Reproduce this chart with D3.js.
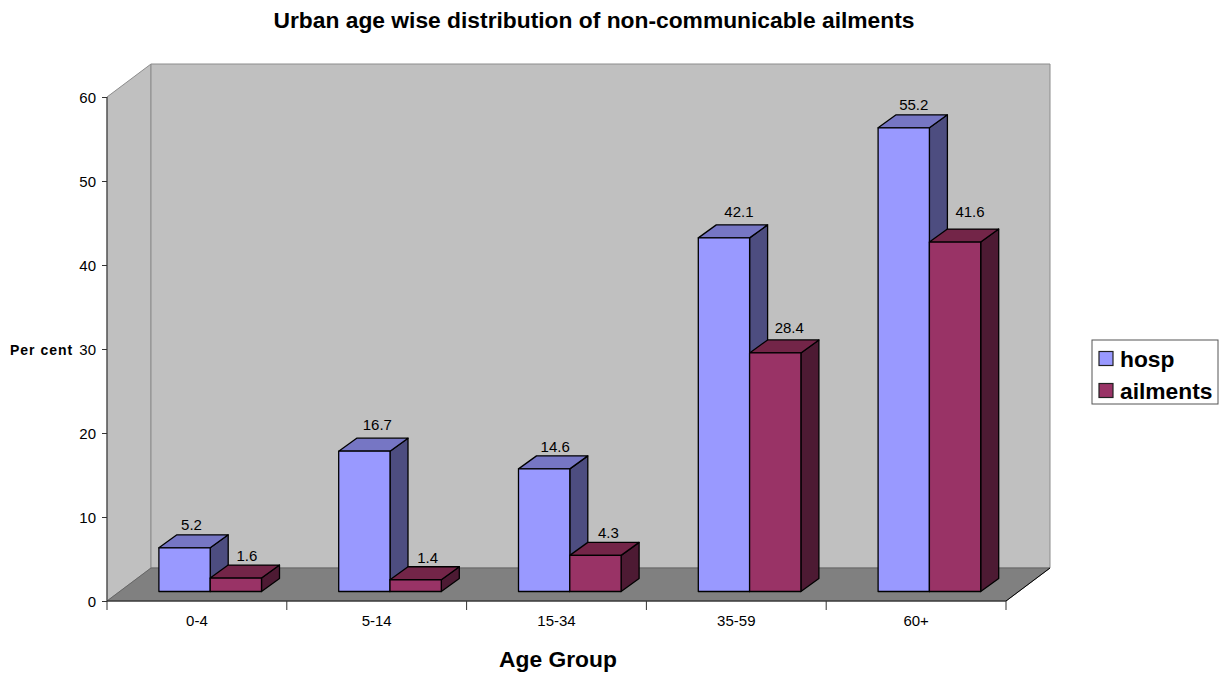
<!DOCTYPE html>
<html>
<head>
<meta charset="utf-8">
<script src="https://cdn.jsdelivr.net/npm/d3@7"></script>
<style>
html, body { margin: 0; padding: 0; background: #fff; }
svg { display: block; }
text { font-family: "Liberation Sans", Arial, sans-serif; fill: #000; }
</style>
</head>
<body>
<svg id="chart" width="1224" height="675"></svg>
<script>
// Values per age group, in per cent
const ageGroups = ["0-4", "5-14", "15-34", "35-59", "60+"];
const hosp = [5.2, 16.7, 14.6, 42.1, 55.2];
const ailments = [1.6, 1.4, 4.3, 28.4, 41.6];
const yTicks = [0, 10, 20, 30, 40, 50, 60];
const seriesNames = ["hosp", "ailments"];
const seriesValues = [hosp, ailments];
const seriesFill = [
  { front: "#9999ff", top: "#7676c4", side: "#4d4d80" },
  { front: "#993366", top: "#732548", side: "#4d1a33" }
];
// Hand placement of the value labels relative to their default spot above each bar
const labelShiftX = [[-2, 4, 2, 6, 1], [2, 3, 4, 5, 6]];
const labelShiftY = [[-1, -4, 0, -4, -1], [0, 0, 0, -3, -8]];

const svg = d3.select("#chart");

// Plot box: front-left origin, plus the oblique shift of the back wall
const plotLeft = 107, plotRight = 1006, plotBottom = 601, plotTop = 97;
const wallDx = 44, wallDy = -33;
// Bars stand part way into the floor and have their own oblique depth
const barInsetX = 13.3, barInsetY = -9.5, barDepthX = 18, barDepthY = -13;

const x = d3.scaleBand().domain(ageGroups).range([plotLeft, plotRight]);
const y = d3.scaleLinear().domain([0, 60]).range([plotBottom, plotTop]);
const barWidth = 51.3;

const poly = pts => pts.map(p => p.join(",")).join(" ");

// Walls and floor
svg.append("polygon")
  .attr("points", poly([[plotLeft, plotBottom], [plotLeft, plotTop], [plotLeft + wallDx, plotTop + wallDy], [plotLeft + wallDx, plotBottom + wallDy]]))
  .attr("fill", "#c0c0c0").attr("stroke", "#8c8c8c").attr("stroke-width", 1);
svg.append("polygon")
  .attr("points", poly([[plotLeft + wallDx, plotBottom + wallDy], [plotLeft + wallDx, plotTop + wallDy], [plotRight + wallDx, plotTop + wallDy], [plotRight + wallDx, plotBottom + wallDy]]))
  .attr("fill", "#c0c0c0").attr("stroke", "#8c8c8c").attr("stroke-width", 1);
svg.append("polygon")
  .attr("points", poly([[plotLeft, plotBottom], [plotLeft + wallDx, plotBottom + wallDy], [plotRight + wallDx, plotBottom + wallDy], [plotRight, plotBottom]]))
  .attr("fill", "#808080").attr("stroke", "#666").attr("stroke-width", 1);
svg.append("line")
  .attr("x1", plotRight).attr("y1", plotBottom).attr("x2", plotRight + wallDx).attr("y2", plotBottom + wallDy)
  .attr("stroke", "#000");

// Bars, drawn back to front within each group
const barLayer = svg.append("g").attr("stroke", "#000").attr("stroke-width", 1.3).attr("stroke-linejoin", "round");
const labelLayer = svg.append("g");
ageGroups.forEach((group, i) => {
  const groupLeft = x(group) + x.bandwidth() / 2 - barWidth + barInsetX;
  seriesValues.forEach((values, s) => {
    const x0 = groupLeft + s * barWidth, x1 = x0 + barWidth;
    const yBase = y(0) + barInsetY, yTop = y(values[i]) + barInsetY;
    const fills = seriesFill[s];
    barLayer.append("polygon").attr("fill", fills.side)
      .attr("points", poly([[x1, yBase], [x1, yTop], [x1 + barDepthX, yTop + barDepthY], [x1 + barDepthX, yBase + barDepthY]]));
    barLayer.append("polygon").attr("fill", fills.top)
      .attr("points", poly([[x0, yTop], [x0 + barDepthX, yTop + barDepthY], [x1 + barDepthX, yTop + barDepthY], [x1, yTop]]));
    barLayer.append("rect").attr("fill", fills.front)
      .attr("x", x0).attr("y", yTop).attr("width", barWidth).attr("height", yBase - yTop);
    labelLayer.append("text")
      .attr("x", (x0 + x1) / 2 + barDepthX / 2 + labelShiftX[s][i])
      .attr("y", yTop + barDepthY - 4 + labelShiftY[s][i])
      .attr("text-anchor", "middle").attr("font-size", 15)
      .text(values[i].toFixed(1));
  });
});

// Value axis
const yAxis = svg.append("g").attr("transform", `translate(${plotLeft},0)`)
  .call(d3.axisLeft(y).tickValues(yTicks).tickSize(5).tickPadding(6).tickFormat(d3.format("d")));
yAxis.selectAll("text").attr("font-size", 15).attr("dy", "0.39em");
yAxis.selectAll("line").attr("stroke", "#333");
yAxis.select(".domain").attr("stroke", "#333").attr("d", `M0,${plotTop}V${plotBottom}`);

// Category axis: labels centred in each band, ticks on the band edges
const xAxis = svg.append("g").attr("transform", `translate(0,${plotBottom})`)
  .call(d3.axisBottom(x).tickSize(0).tickPadding(14));
xAxis.selectAll("text").attr("font-size", 15);
xAxis.select(".domain").attr("stroke", "#222").attr("d", `M${plotLeft},0H${plotRight}`);
xAxis.selectAll(".edge").data(ageGroups.map(g => x(g)).concat([plotRight])).join("line")
  .attr("class", "edge")
  .attr("x1", d => d).attr("x2", d => d).attr("y1", 0).attr("y2", 9)
  .attr("stroke", "#333");

// Titles
svg.append("text").attr("x", 594).attr("y", 28).attr("text-anchor", "middle")
  .attr("font-size", 22.8).attr("font-weight", "bold")
  .text("Urban age wise distribution of non-communicable ailments");
svg.append("text").attr("x", 558).attr("y", 667).attr("text-anchor", "middle")
  .attr("font-size", 22.8).attr("font-weight", "bold").text("Age Group");
svg.append("text").attr("x", 10).attr("y", 354.5)
  .attr("font-size", 14).attr("font-weight", "bold").attr("letter-spacing", 1).text("Per cent");

// Legend
const legend = svg.append("g");
legend.append("rect").attr("x", 1092).attr("y", 340).attr("width", 126).attr("height", 64)
  .attr("fill", "#fff").attr("stroke", "#555");
seriesNames.forEach((name, s) => {
  const rowY = 358.5 + s * 32;
  legend.append("rect").attr("x", 1099).attr("y", rowY - 7).attr("width", 14).attr("height", 14)
    .attr("fill", seriesFill[s].front).attr("stroke", "#222").attr("stroke-width", 1.2);
  legend.append("text").attr("x", 1120).attr("y", rowY + 8)
    .attr("font-size", 22.8).attr("font-weight", "bold").text(name);
});
</script>
</body>
</html>
